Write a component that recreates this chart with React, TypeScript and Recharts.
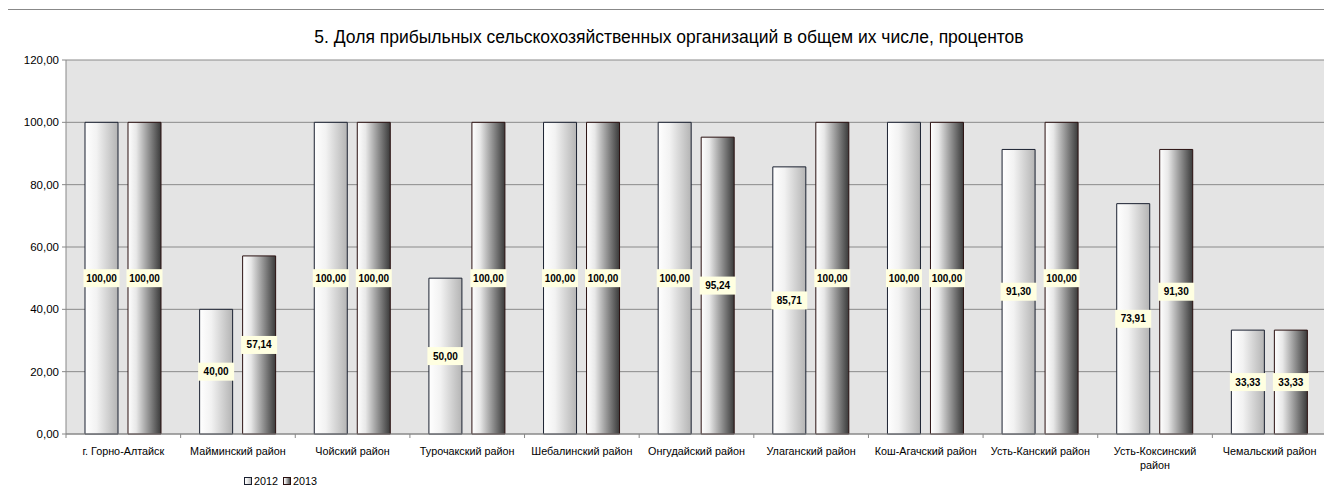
import React from 'react';
import { BarChart, Bar, XAxis, YAxis, CartesianGrid, Legend, LabelList } from 'recharts';

const categories = [
  'г. Горно-Алтайск',
  'Майминский район',
  'Чойский район',
  'Турочакский район',
  'Шебалинский район',
  'Онгудайский район',
  'Улаганский район',
  'Кош-Агачский район',
  'Усть-Канский район',
  'Усть-Коксинский район',
  'Чемальский район',
];
const values2012 = [100, 40, 100, 50, 100, 100, 85.71, 100, 91.3, 73.91, 33.33];
const values2013 = [100, 57.14, 100, 100, 100, 95.24, 100, 100, 100, 91.3, 33.33];
const yTicks = [0, 20, 40, 60, 80, 100, 120];
const seriesNames = ['2012', '2013'];

const data = categories.map((name, i) => ({
  name,
  y2012: values2012[i],
  y2013: values2013[i],
}));

const FONT = '"Liberation Sans", Arial, sans-serif';
const W = 1322;
const H = 478;
const MARGIN = { top: 50, right: 3, left: 0, bottom: 14 };
const Y_W = 58;
const PLOT_W = W - MARGIN.left - MARGIN.right - Y_W;

const fmt = (v: number) => v.toFixed(2).replace('.', ',');

// long names wrap onto two lines, like in the original
const splitLabel = (s: string) => {
  if (s.length <= 20) return [s];
  const k = s.lastIndexOf(' ');
  return [s.slice(0, k), s.slice(k + 1)];
};

const ValueLabel = (props: any) => {
  const { x, y, width, height, value } = props;
  const cx = x + width / 2;
  const cy = y + height / 2;
  return (
    <g>
      <rect x={cx - 18} y={cy - 9} width={36} height={18} fill="#ffffe1" />
      <text
        x={cx}
        y={cy + 3.5}
        textAnchor="middle"
        fontFamily={FONT}
        fontSize={10}
        fontWeight="bold"
        fill="#000"
      >
        {fmt(value)}
      </text>
    </g>
  );
};

const XTick = (props: any) => {
  const { x, y, payload, index } = props;
  const step = PLOT_W / categories.length;
  const axisY = y - 14;
  const lines = splitLabel(payload.value);
  return (
    <g>
      <line x1={x - step / 2} x2={x - step / 2} y1={axisY} y2={axisY + 4} stroke="#888" />
      {index === categories.length - 1 && (
        <line x1={x + step / 2} x2={x + step / 2} y1={axisY} y2={axisY + 4} stroke="#888" />
      )}
      <text x={x} y={y + 7} textAnchor="middle" fontFamily={FONT} fontSize={10.8} fill="#000">
        {lines.map((l, i) => (
          <tspan key={i} x={x} dy={i === 0 ? 0 : 14}>
            {l}
          </tspan>
        ))}
      </text>
    </g>
  );
};

const renderLegend = () => (
  <div style={{ display: 'flex', alignItems: 'center', fontFamily: FONT, fontSize: 10.8, color: '#000', whiteSpace: 'nowrap' }}>
    {seriesNames.map((s, i) => (
      <span key={s} style={{ display: 'flex', alignItems: 'center', marginRight: 5 }}>
        <svg width={8} height={8} style={{ marginRight: 2 }}>
          <rect x={0.5} y={0.5} width={7} height={7} fill={`url(#g${s})`} stroke={i === 0 ? '#1a2030' : '#2a1010'} />
        </svg>
        {s}
      </span>
    ))}
  </div>
);

export default function App() {
  return (
    <div
      style={{
        position: 'relative',
        left: -1,
        top: 1,
        width: W,
        height: H,
        borderTop: '1px solid #888',
        borderLeft: '1px solid #888',
        borderRight: '1px solid #888',
        background: '#fff',
      }}
    >
      <div
        style={{
          position: 'absolute',
          left: 0,
          top: 16,
          width: W,
          textAlign: 'center',
          fontFamily: FONT,
          fontSize: 17.5,
          lineHeight: '22px',
          color: '#000',
          zIndex: 2,
        }}
      >
        5. Доля прибыльных сельскохозяйственных организаций в общем их числе, процентов
      </div>
      <BarChart
        width={W}
        height={H}
        data={data}
        margin={MARGIN}
        barSize={33}
        barGap={10}
      >
        <defs>
          <linearGradient id="g2012" x1="0" y1="0" x2="1" y2="0">
            <stop offset="0%" stopColor="#ffffff" />
            <stop offset="35%" stopColor="#f2f2f2" />
            <stop offset="100%" stopColor="#b4b4b4" />
          </linearGradient>
          <linearGradient id="g2013" x1="0" y1="0" x2="1" y2="0">
            <stop offset="0%" stopColor="#ffffff" />
            <stop offset="25%" stopColor="#e8e8e8" />
            <stop offset="100%" stopColor="#3a3a3a" />
          </linearGradient>
        </defs>
        <CartesianGrid vertical={false} stroke="#8a8a8a" fill="#e4e4e4" fillOpacity={1} />
        <XAxis
          dataKey="name"
          interval={0}
          tickLine={false}
          tickSize={4}
          tickMargin={10}
          height={40}
          axisLine={{ stroke: '#888' }}
          tick={<XTick />}
        />
        <YAxis
          domain={[0, 120]}
          ticks={yTicks}
          width={Y_W}
          tickFormatter={fmt}
          tickSize={4}
          tickMargin={3}
          axisLine={{ stroke: '#888' }}
          tickLine={{ stroke: '#888' }}
          tick={{ fontFamily: FONT, fontSize: 11.5, fill: '#000' }}
        />
        <YAxis
          yAxisId="right"
          orientation="right"
          width={0}
          domain={[0, 120]}
          tick={false}
          tickLine={false}
          axisLine={{ stroke: '#888' }}
        />
        <Legend
          layout="horizontal"
          verticalAlign="middle"
          align="center"
          content={renderLegend}
          wrapperStyle={{ left: 236, top: 465, width: 'auto', height: 14 }}
        />
        <Bar dataKey="y2012" name="2012" fill="url(#g2012)" stroke="#1a2030" strokeWidth={1} isAnimationActive={false}>
          <LabelList dataKey="y2012" content={<ValueLabel />} />
        </Bar>
        <Bar dataKey="y2013" name="2013" fill="url(#g2013)" stroke="#2a1010" strokeWidth={1} isAnimationActive={false}>
          <LabelList dataKey="y2013" content={<ValueLabel />} />
        </Bar>
      </BarChart>
    </div>
  );
}
